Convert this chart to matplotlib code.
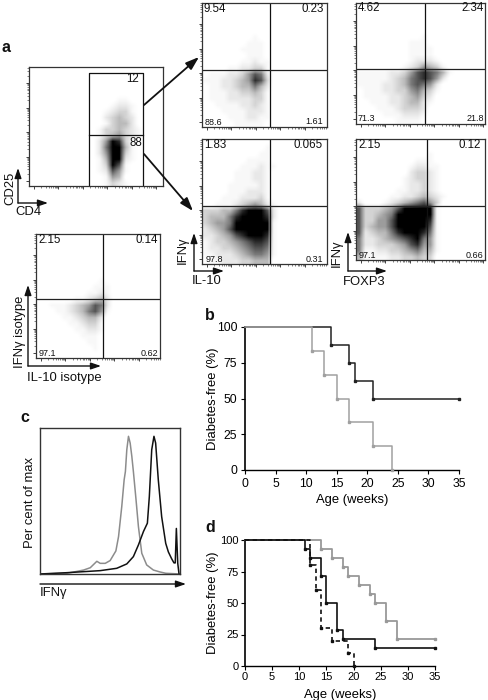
import numpy as np
import matplotlib
matplotlib.use("Agg")
import matplotlib.pyplot as plt
from matplotlib.colors import PowerNorm

plt.rcParams['font.family'] = ['Liberation Sans', 'DejaVu Sans']

W = 488
H = 700

# dot plot densities, 0 = empty, 9 = solid. top row first
cd4_density = [
    "00000000000000000000", "00000000000000000000", "00000000000000000000",
    "00000000000000000000", "00000000000000000000", "00000000000001100000",
    "00000000000012210000", "00000000000123310000", "00000000000234320000",
    "00000000000134420000", "00000000001334321000", "00000000001345321000",
    "00000000002598310000", "00000000002699410000", "00000000002599310000",
    "00000000001499210000", "00000000001397100000", "00000000001275100000",
    "00000000000154000000", "00000000000132100000",
]
il10_high_density = [
    "00000000000000000000", "00000000000000000000", "00000000000000000000",
    "00000000000000000000", "00000000000000000000", "00000000100000000000",
    "00000001110000000000", "00000011110000000000", "00000001110000000000",
    "00000011211000000000", "00001122331000000000", "01112235762000000000",
    "11122345873000000000", "01122344642000000000", "01112233431000000000",
    "01112222331000000000", "00111122321000000000", "00011112221000000000",
    "00001112211000000000", "00000111110000000000",
]
foxp3_high_density = [
    "00000000000000000000", "00000000000000000000", "00000000000000000000",
    "00000000000000000000", "00000000000000000000", "00000000001000000000",
    "00000000111000000000", "00000000111100000000", "00000000111100000000",
    "00000000122210000000", "00000001235431000000", "11111223578764100000",
    "11111234678752000000", "11112234676520000000", "01112233564310000000",
    "01111223453200000000", "00111223442100000000", "00011123332000000000",
    "00001112221000000000", "00000011110000000000",
]
il10_low_density = [
    "00000000000000000000", "00000000001000000000", "00000000011000000000",
    "00000001111000000000", "00000011121100000000", "00000111221000000000",
    "00000111221000000000", "00001111121000000000", "00001112221000000000",
    "00011122231000000000", "00111234542100000000", "33344689997200000000",
    "34446899998200000000", "34556999999100000000", "23457999999100000000",
    "22345789998100000000", "12334567887100000000", "12233456776100000000",
    "11222345665100000000", "01122233444000000000",
]
foxp3_low_density = [
    "00000000000000000000", "00000000000000000000", "00000000000100000000",
    "00000000011100000000", "00000000122110000000", "00000000233210000000",
    "00000001233210000000", "00000001223210000000", "00000011223210000000",
    "00000112234321000000", "20001234567530000000", "73334579999910000000",
    "73345699999910000000", "73355799999810000000", "73455799999710000000",
    "72344689998610000000", "62234567896510000000", "62233345785510000000",
    "61122334564410000000", "41111223343300000000",
]
isotype_density = [
    "00000000000000000000", "00000000000000000000", "00000000000000000000",
    "00000000000000000000", "00000000000000000000", "00000000000000000000",
    "00000000000000000000", "00000000001000000000", "00000000011100000000",
    "00000000112100000000", "00000011234200000000", "00111234576200000000",
    "00011234675100000000", "00001123442000000000", "00000112331000000000",
    "00000011221000000000", "00000001110000000000", "00000000110000000000",
    "00000000010000000000", "00000000000000000000",
]

# quadrant percentages: upper left, upper right, lower left, lower right
il10_high_pct = ["9.54", "0.23", "88.6", "1.61"]
foxp3_high_pct = ["4.62", "2.34", "71.3", "21.8"]
il10_low_pct = ["1.83", "0.065", "97.8", "0.31"]
foxp3_low_pct = ["2.15", "0.12", "97.1", "0.66"]
isotype_pct = ["2.15", "0.14", "97.1", "0.62"]
gate_pct = ["12", "88"]

# panel c histograms
hist_grey_x = [0, 19.2, 26.4, 31.1, 35.9, 40.6, 43, 46.6, 50.1, 54.2, 56.1, 58.4, 60.1, 61, 62, 63.2,
               64.4, 65.6, 66.7, 68.6, 70.3, 72.7, 76.2, 81, 85.7, 89.8, 100]
hist_grey_y = [0, .5, 1.8, 2.7, 4.3, 8.7, 7.3, 7.3, 9.2, 15.8, 25.6, 46.2, 64.5, 70.2, 85.1, 94.3,
               89.7, 80.5, 70.2, 50.8, 32.5, 14.2, 6.2, 2.7, 1.4, .5, 0]
hist_black_x = [0, 19.2, 31.1, 43, 54.8, 62, 66.7, 70.3, 73.9, 76.7, 78.1, 79.8, 81.4, 82.6, 84.5,
                86.9, 89.8, 91.7, 94, 95.7, 96.6, 97.4, 98.4, 99.3]
hist_black_y = [0, .9, 1.6, 2.3, 3.9, 6.9, 11.9, 19.9, 29.1, 34.8, 53.1, 85.1, 94.3, 89.7, 64.5,
                39.3, 21, 15.1, 10.5, 7.6, 7.6, 31.2, 7.3, 0]

# survival curves
b_black_weeks = [0, 14, 17, 18, 21, 35]
b_black_free = [100, 87.5, 75, 62.5, 50, 50]
b_grey_weeks = [0, 11, 13, 15, 17, 21, 24]
b_grey_free = [100, 83.3, 66.7, 50, 33.3, 16.7, 0]
d_grey_weeks = [0, 14, 16, 18, 19, 21, 23, 24, 26, 28, 35]
d_grey_free = [100, 92.9, 85.7, 78.6, 71.4, 64.3, 57.1, 50, 35.7, 21.4, 21.4]
d_black_weeks = [0, 11, 12, 14, 15, 17, 18, 24, 35]
d_black_free = [100, 92.9, 85.7, 71.4, 50, 28.6, 21.4, 14.3, 14.3]
d_dash_weeks = [0, 12, 13, 14, 16, 19, 20]
d_dash_free = [100, 80, 60, 30, 20, 10, 0]
age_ticks = [0, 5, 10, 15, 20, 25, 30, 35]
free_ticks = [0, 25, 50, 75, 100]


def px_axes(fig, left, top, right, bottom):
    return fig.add_axes([left / W, 1 - bottom / H, (right - left) / W, (bottom - top) / H])


def dot_panel(fig, box, density, cross_x=None, cross_y=None):
    left, top, right, bottom = box
    ax = px_axes(fig, left, top, right, bottom)
    # log axes of the cytometer, about 24 px to the decade
    span_x = (right - left) / 24.5
    span_y = (bottom - top) / 24.5
    grid = np.array([[int(c) for c in row] for row in density])
    ax.imshow(grid, extent=[0, span_x, 0, span_y], aspect='auto', cmap='gray_r',
              norm=PowerNorm(1.6, vmin=0, vmax=9), interpolation='bilinear')
    major_x = np.arange(0.2, span_x, 1)
    major_y = np.arange(0.2, span_y, 1)
    steps = np.log10(np.arange(2, 10))
    ax.set_xticks(major_x)
    ax.set_yticks(major_y)
    ax.set_xticks([m + s for m in major_x for s in steps if m + s < span_x], minor=True)
    ax.set_yticks([m + s for m in major_y for s in steps if m + s < span_y], minor=True)
    ax.tick_params(which='major', length=2.2, width=0.6, labelleft=False, labelbottom=False, color='#222222')
    ax.tick_params(which='minor', length=1.1, width=0.4, color='#222222')
    for s in ax.spines.values():
        s.set_linewidth(0.9)
        s.set_color('#333333')
    if cross_x is not None:
        ax.axvline((cross_x - left) / (right - left) * span_x, color='#111111', lw=0.9)
    if cross_y is not None:
        ax.axhline((bottom - cross_y) / (bottom - top) * span_y, color='#222222', lw=0.9)
    return ax


def survival_axes(fig, box, tick_size, tick_pad, xlabel_pad):
    ax = px_axes(fig, *box)
    ax.set_xlim(0, 35)
    ax.set_ylim(0, 100)
    ax.set_xticks(age_ticks)
    ax.set_yticks(free_ticks)
    ax.spines['top'].set_visible(False)
    ax.spines['right'].set_visible(False)
    ax.spines['left'].set_linewidth(1.2)
    ax.spines['bottom'].set_linewidth(1.0)
    ax.tick_params(length=3, width=0.8, labelsize=tick_size, pad=tick_pad)
    ax.set_xlabel("Age (weeks)", fontsize=9.4, labelpad=xlabel_pad)
    ax.set_ylabel("Diabetes-free (%)", fontsize=9.4)
    ax.yaxis.set_label_coords((219 - box[0]) / (box[2] - box[0]), 0.5)
    return ax


def km(ax, weeks, free, color, ls='-', lw=1.1):
    ax.step(weeks, free, where='post', color=color, lw=lw, ls=ls, clip_on=False, zorder=3)
    ax.plot(weeks[1:], free[1:], ls='none', marker='s', ms=1.6, color=color, clip_on=False, zorder=4)


fig = plt.figure(figsize=(W / 100, H / 100), dpi=100)

# overlay in pixel coordinates for arrows and text
over = fig.add_axes([0, 0, 1, 1], zorder=10)
over.set_xlim(0, W)
over.set_ylim(H, 0)
over.axis('off')
over.patch.set_alpha(0)


def put(x, y, s, size=8.3, ha='left', rot=0, weight='normal'):
    over.text(x, y, s, fontsize=size, ha=ha, va='center', rotation=rot, fontweight=weight, color='#111111')


def arrow(x0, y0, x1, y1, lw=1.0, head=6):
    over.annotate("", xy=(x1, y1), xytext=(x0, y0),
                  arrowprops=dict(arrowstyle='-|>,head_length=0.5,head_width=0.17', color='#111111', lw=lw,
                                  mutation_scale=head * 2, shrinkA=0, shrinkB=0))


def axis_arrows(cx, cy, top_y, right_x):
    arrow(cx, cy, cx, top_y)
    arrow(cx, cy, right_x, cy)


def quad_text(pct, ul, ur, ll, lr):
    put(ul[0], ul[1], pct[0])
    put(ur[0], ur[1], pct[1], ha='right')
    put(ll[0], ll[1], pct[2], size=6.5)
    put(lr[0], lr[1], pct[3], size=6.5, ha='right')


# panel a
ax_gate = dot_panel(fig, (29, 67, 163, 186), cd4_density)
gate_l = (89 - 29) / 24.5
gate_r = (143 - 29) / 24.5
gate_t = (186 - 73) / 24.5
gate_m = (186 - 135) / 24.5
ax_gate.plot([gate_l, gate_l, gate_r, gate_r], [0, gate_t, gate_t, 0], color='#111111', lw=0.9)
ax_gate.plot([gate_l, gate_r], [gate_m, gate_m], color='#111111', lw=0.9)
put(139, 78.5, gate_pct[0], ha='right')
put(142, 143, gate_pct[1], ha='right')
axis_arrows(18, 203, 168, 48)
put(10, 188, "CD25", size=9.4, ha='center', rot=90)
put(28, 212, "CD4", size=9.4, ha='center')
arrow(144, 105, 199, 57, lw=1.3, head=8)
arrow(144, 154, 193, 211, lw=1.3, head=8)

dot_panel(fig, (202, 3, 327, 127), il10_high_density, 270, 70)
quad_text(il10_high_pct, (204, 9), (324, 9), (205, 122.5), (323, 122))
dot_panel(fig, (356, 3, 485, 124), foxp3_high_density, 425, 69)
quad_text(foxp3_high_pct, (358, 8), (484, 8), (358, 118.5), (484, 118.5))
dot_panel(fig, (202, 139, 327, 264), il10_low_density, 270, 206)
quad_text(il10_low_pct, (204, 145), (323, 145), (206, 259), (323, 259))
dot_panel(fig, (356, 139, 485, 260), foxp3_low_density, 427, 206)
quad_text(foxp3_low_pct, (358, 145), (481, 145), (359, 255), (483, 255))
dot_panel(fig, (36, 234, 160, 358), isotype_density, 103, 299)
quad_text(isotype_pct, (38, 240), (158, 240), (39, 353), (158, 353))

axis_arrows(194, 271, 233, 224)
put(183, 250, "IFN\u03b3", size=9.4, ha='center', rot=90)
put(207, 281, "IL-10", size=9.4, ha='center')
axis_arrows(348, 271, 232, 387)
put(337, 253, "IFN\u03b3", size=9.4, ha='center', rot=90)
put(364, 282, "FOXP3", size=9.4, ha='center')
axis_arrows(28, 366, 285, 101)
put(20, 332, "IFN\u03b3 isotype", size=9.4, ha='center', rot=90)
put(64, 378, "IL-10 isotype", size=9.4, ha='center')

# panel b
ax_b = survival_axes(fig, (245, 327, 459, 470), 8.8, 2.5, 3)
km(ax_b, b_black_weeks, b_black_free, '#222222')
km(ax_b, b_grey_weeks, b_grey_free, '#a0a0a0')

# panel d
ax_d = survival_axes(fig, (245, 540, 435, 666), 8.0, 1.5, 5)
km(ax_d, d_grey_weeks, d_grey_free, '#999999', lw=1.3)
km(ax_d, d_black_weeks, d_black_free, '#111111', lw=1.2)
km(ax_d, d_dash_weeks, d_dash_free, '#111111', ls=(0, (2.6, 2)), lw=1.2)

# panel c
ax_c = px_axes(fig, 40, 428, 180, 574)
ax_c.plot(hist_grey_x, hist_grey_y, color='#8c8c8c', lw=1.1)
ax_c.plot(hist_black_x, hist_black_y, color='#111111', lw=1.1)
ax_c.set_xlim(0, 100)
ax_c.set_ylim(0, 100)
ax_c.set_xticks([])
ax_c.set_yticks([])
for s in ax_c.spines.values():
    s.set_linewidth(1.0)
    s.set_color('#333333')
arrow(40, 584, 186, 584)
put(30, 503, "Per cent of max", size=9.4, ha='center', rot=90)
put(40, 593, "IFN\u03b3", size=9.4)

put(1, 48, "a", size=11.5, weight='bold')
put(205, 316, "b", size=11.5, weight='bold')
put(20, 418, "c", size=11.5, weight='bold')
put(205, 527, "d", size=11.5, weight='bold')

fig.savefig("out.png", dpi=100)
